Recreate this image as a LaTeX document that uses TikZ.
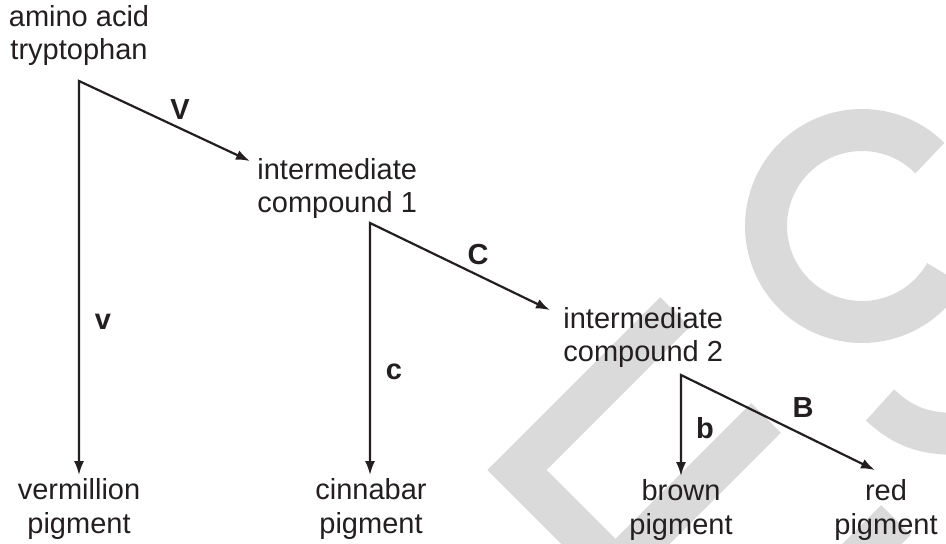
\documentclass[tikz,border=0pt]{standalone}
\usepackage{fontspec}
\setmainfont{Liberation Sans}
\usetikzlibrary{arrows.meta,calc}
\definecolor{wmgray}{RGB}{218,218,218}
\definecolor{ink}{RGB}{35,31,32}
\begin{document}
\begin{tikzpicture}[x=0.5pt,y=-0.5pt,
	every node/.style={font=\fontsize{14.5}{16.75}\selectfont, inner sep=0pt, text=ink},
	stage/.style={align=center},
	gene/.style={font=\fontsize{14.5}{16.75}\selectfont\bfseries},
	link/.style={ink, line width=1.1pt},
	tips/.style={{Latex[length=7pt,width=5pt]}-{Latex[length=7pt,width=5pt]}},
	wm/.style={wmgray, line width=21pt}]
	\useasboundingbox (0,0) rectangle (946,544);
	% watermark
	\begin{scope}
		\clip (0,0) rectangle (946,544);
		\draw [wm] (675,312) -- (517,470) -- (647,600);
		\draw [wm] (766,418) -- (600,584);
		\draw [wm] (896,520) -- (846,570);
		\draw [wm] (880,405) .. controls (905,428) and (925,434) .. (960,434);
		\draw [wm] (862,226) ++(-45:96) arc[start angle=-45, end angle=-330, radius=96];
	\end{scope}
	\node [stage, anchor=base] (trp) at (79,60) {amino acid\\tryptophan};
	\node [stage, align=left, anchor=base west] (int1) at (257,213) {intermediate\\compound 1};
	\node [stage, align=left, anchor=base west] (int2) at (563,362) {intermediate\\compound 2};
	\node [stage, anchor=base] (verm) at (79,533) {vermillion\\pigment};
	\node [stage, anchor=base] (cinn) at (371,533) {cinnabar\\pigment};
	\node [stage, anchor=base] (brown) at (681,534) {brown\\pigment};
	\node [stage, anchor=base] (red) at (886,534) {red\\pigment};
	\coordinate (v1) at (79,81);
	\coordinate (v2) at (370,223);
	\coordinate (v3) at (681,375);
	\draw [link, tips] ($(v1 |- verm.north)+(0,-3)$) -- (v1) -- ([shift={(-7,3)}]int1.north west);
	\draw [link, tips] ($(v2 |- cinn.north)+(0,-3)$) -- (v2) -- ([shift={(-13,3)}]int2.north west);
	\draw [link, tips] ($(v3 |- brown.north)+(0,-3)$) -- (v3) -- ([shift={(-11,-9)}]red.north);
	\node [gene] (gV) at (180,110) {V};
	\node [gene] (gv) at (103,322) {v};
	\node [gene] (gC) at (478,255) {C};
	\node [gene] (gc) at (394,372) {c};
	\node [gene] (gB) at (803,408) {B};
	\node [gene] (gb) at (705,428) {b};
\end{tikzpicture}
\end{document}
